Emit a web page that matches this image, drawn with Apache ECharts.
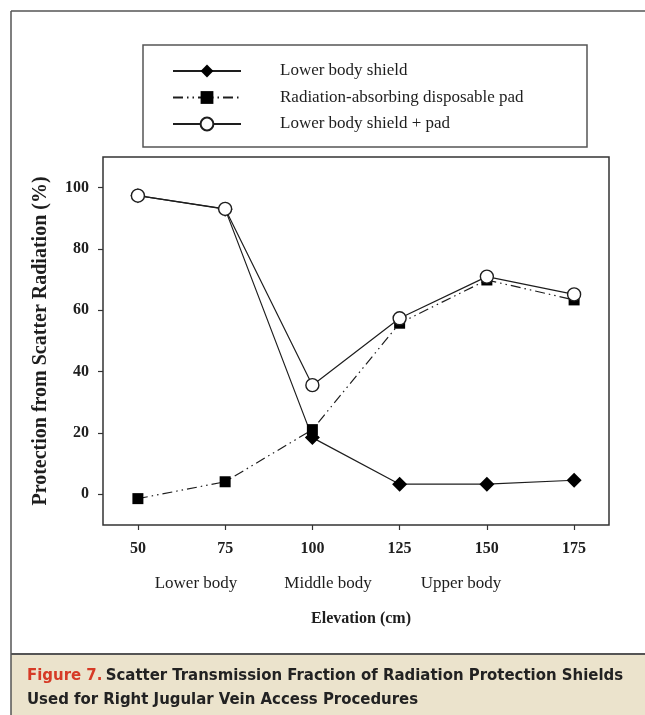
<!DOCTYPE html>
<html>
<head>
<meta charset="utf-8">
<script src="https://cdn.jsdelivr.net/npm/echarts@6/dist/echarts.min.js"></script>
<style>
  html, body { margin: 0; padding: 0; background: #fff; }
  #chart { width: 645px; height: 715px; }
</style>
</head>
<body>
<div id="chart"></div>
<script>
// elevation (cm)
const elevations = [50, 75, 100, 125, 150, 175]
const seriesNames = ['Lower body shield', 'Radiation-absorbing disposable pad', 'Lower body shield + pad']
// protection from scatter radiation (%)
const shieldValues = [97.4, 93.0, 18.5, 3.3, 3.3, 4.6]
const padValues = [-1.4, 4.1, 21.1, 55.8, 69.9, 63.4]
const shieldPadValues = [97.4, 93.1, 35.6, 57.4, 71.0, 65.2]
const xTicks = [50, 75, 100, 125, 150, 175]
const yTicks = [0, 20, 40, 60, 80, 100]
const regionLabels = ['Lower body', 'Middle body', 'Upper body']
const captionLead = 'Figure 7.'
const captionLine1 = 'Scatter Transmission Fraction of Radiation Protection Shields'
const captionLine2 = 'Used for Right Jugular Vein Access Procedures'

const serif = '"Liberation Serif", "Times New Roman", serif'
const condensed = '"DejaVu Sans Condensed", "Liberation Sans Narrow", sans-serif'
const ink = '#1e1e1e'

const chart = echarts.init(document.getElementById('chart'))

const pairs = vals => elevations.map((x, i) => [x, vals[i]])

const option = {
  animation: false,
  backgroundColor: '#fff',
  grid: {
    left: 103, right: 36, top: 157, bottom: 190,
    show: true, borderColor: '#333', borderWidth: 1.5, backgroundColor: 'transparent'
  },
  legend: {
    orient: 'vertical',
    left: 172, top: 61,
    padding: 0,
    itemWidth: 68, itemHeight: 16, itemGap: 6.5,
    data: seriesNames,
    textStyle: {
      fontFamily: serif, fontSize: 17, color: ink,
      lineHeight: 20, padding: [0, 0, 0, 34]
    }
  },
  xAxis: {
    type: 'value',
    min: 40, max: 185,
    name: 'Elevation (cm)',
    nameLocation: 'middle',
    nameGap: 86,
    nameTextStyle: { fontFamily: serif, fontSize: 16, fontWeight: 'bold', color: ink, padding: [0, 0, 0, 10] },
    axisLine: { show: false, onZero: false },
    splitLine: { show: false },
    axisTick: { show: true, length: 5, inside: false, customValues: xTicks, lineStyle: { color: '#333', width: 1.2 } },
    axisLabel: { customValues: xTicks, margin: 16, fontFamily: serif, fontSize: 16, fontWeight: 'bold', color: ink }
  },
  yAxis: {
    type: 'value',
    min: -10, max: 110,
    name: 'Protection from Scatter Radiation (%)',
    nameLocation: 'middle',
    nameGap: 52,
    nameTextStyle: { fontFamily: serif, fontSize: 20, fontWeight: 'bold', color: ink },
    axisLine: { show: false, onZero: false },
    splitLine: { show: false },
    axisTick: { show: true, length: 5, inside: false, customValues: yTicks, lineStyle: { color: '#333', width: 1.2 } },
    axisLabel: { customValues: yTicks, margin: 14, fontFamily: serif, fontSize: 16, fontWeight: 'bold', color: ink }
  },
  series: [
    {
      name: seriesNames[0],
      type: 'line',
      data: pairs(shieldValues),
      symbol: 'diamond',
      symbolSize: [15, 15],
      lineStyle: { color: ink, width: 1.2, type: 'solid' },
      itemStyle: { color: '#000', borderWidth: 0 },
      z: 2
    },
    {
      name: seriesNames[1],
      type: 'line',
      data: pairs(padValues),
      symbol: 'rect',
      symbolSize: 11,
      lineStyle: { color: ink, width: 1.2, type: [10, 4, 1.5, 4, 1.5, 4] },
      itemStyle: { color: '#000', borderWidth: 0 },
      z: 3
    },
    {
      name: seriesNames[2],
      type: 'line',
      data: pairs(shieldPadValues),
      symbol: 'circle',
      symbolSize: 13,
      lineStyle: { color: ink, width: 1.2, type: 'solid' },
      itemStyle: { color: '#fff', borderColor: ink, borderWidth: 1.4 },
      z: 4
    }
  ],
  graphic: [
    // outer figure frame
    { type: 'line', shape: { x1: 11, y1: 11, x2: 645, y2: 11 }, style: { stroke: '#555', lineWidth: 1.5 }, z: 10 },
    { type: 'line', shape: { x1: 11, y1: 11, x2: 11, y2: 715 }, style: { stroke: '#555', lineWidth: 1.5 }, z: 10 },
    // legend box
    { type: 'rect', shape: { x: 143, y: 45, width: 444, height: 102 }, style: { fill: 'none', stroke: '#555', lineWidth: 1.5 }, z: 10 },
    // region labels under the axis
    { type: 'text', x: 196, y: 584, style: { text: regionLabels[0], font: '17px ' + serif, fill: ink, textAlign: 'center', textVerticalAlign: 'middle' } },
    { type: 'text', x: 328, y: 584, style: { text: regionLabels[1], font: '17px ' + serif, fill: ink, textAlign: 'center', textVerticalAlign: 'middle' } },
    { type: 'text', x: 461, y: 584, style: { text: regionLabels[2], font: '17px ' + serif, fill: ink, textAlign: 'center', textVerticalAlign: 'middle' } },
    // caption
    { type: 'rect', shape: { x: 11, y: 654, width: 634, height: 61 }, style: { fill: '#ebe3cc' }, z: 5 },
    { type: 'line', shape: { x1: 11, y1: 654, x2: 645, y2: 654 }, style: { stroke: '#555', lineWidth: 2 }, z: 11 },
    {
      type: 'text', x: 27, y: 676, z: 12,
      style: {
        text: '{r|' + captionLead + '} {b|' + captionLine1 + '}',
        textVerticalAlign: 'middle',
        rich: {
          r: { font: 'bold 16.6px ' + condensed, fill: '#d63a26' },
          b: { font: 'bold 16.6px ' + condensed, fill: '#222' }
        }
      }
    },
    {
      type: 'text', x: 27, y: 700, z: 12,
      style: { text: captionLine2, font: 'bold 16.6px ' + condensed, fill: '#222', textVerticalAlign: 'middle' }
    }
  ]
}

chart.setOption(option)
</script>
</body>
</html>
